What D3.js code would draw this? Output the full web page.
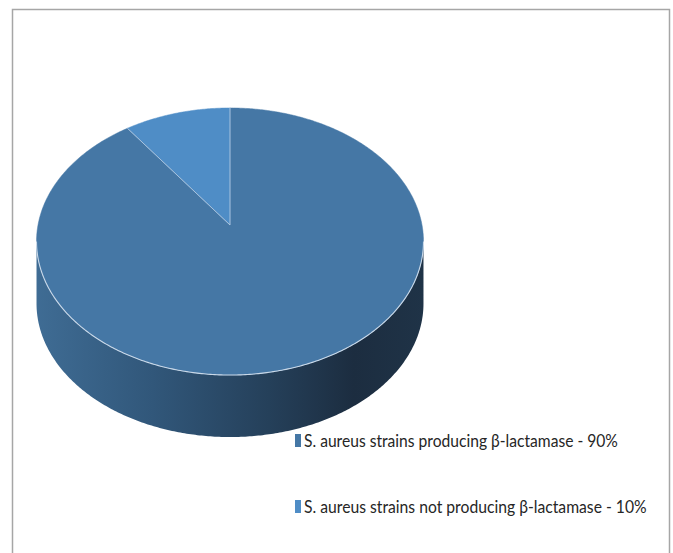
<!DOCTYPE html>
<html>
<head>
<meta charset="utf-8">
<script src="https://cdn.jsdelivr.net/npm/d3@7"></script>
<style>
  html, body { margin: 0; padding: 0; background: #ffffff; }
  svg { display: block; }
</style>
</head>
<body>
<svg id="chart" width="673" height="553"></svg>
<script>
// ---- data ----
const categories = [
  "S. aureus strains producing \u03B2-lactamase - 90%",
  "S. aureus strains not producing \u03B2-lactamase - 10%"
];
const values = [90, 10];
const sliceColors = ["#4577a5", "#4f8dc6"];

// ---- layout ----
const svg = d3.select("#chart");

// chart frame
svg.append("rect")
  .attr("x", 12.5).attr("y", 9.5)
  .attr("width", 657).attr("height", 560)
  .attr("fill", "#ffffff")
  .attr("stroke", "#a6a6a6").attr("stroke-width", 1.5);

// perspective projection of a unit circle (angle clockwise from the top)
const cx = 230, cy = 225;   // projected pie centre
const S = 192, T = 131.5, k = 0.1236;
const depth = 62;
function proj(a, r = 1, dy = 0) {
  const u = r * Math.sin(a), v = -r * Math.cos(a);
  const w = 1 - k * v;
  return [cx + S * u / w, cy + T * v / w + dy];
}

const pie = d3.pie().sort(null).startAngle(0).endAngle(2 * Math.PI);
const arcs = pie(values);
const line = d3.line();

function arcPoints(a0, a1, dy = 0) {
  const n = Math.max(8, Math.ceil(Math.abs(a1 - a0) / 0.01));
  return d3.range(n + 1).map(i => proj(a0 + (a1 - a0) * i / n, 1, dy));
}

// gradient for the side
const aR = Math.acos(-k);              // right silhouette angle
const aL = 2 * Math.PI - aR;           // left silhouette angle
const defs = svg.append("defs");
const grad = defs.append("linearGradient")
  .attr("id", "sideGrad")
  .attr("gradientUnits", "userSpaceOnUse")
  .attr("x1", proj(aL)[0]).attr("y1", 0)
  .attr("x2", proj(aR)[0]).attr("y2", 0);
[[0, "#3f6c94"], [0.3, "#31577a"], [0.6, "#25405a"], [0.82, "#1c2d40"], [1, "#1f3347"]]
  .forEach(([o, c]) => grad.append("stop").attr("offset", o).attr("stop-color", c));

// visible side of the cylinder (front half, belongs to the big slice)
const big = arcs[0];
const sA0 = Math.max(aR, big.startAngle), sA1 = Math.min(aL, big.endAngle);
const sidePts = arcPoints(sA0, sA1, 0).concat(arcPoints(sA1, sA0, depth));
svg.append("path")
  .attr("d", line(sidePts) + "Z")
  .attr("fill", "url(#sideGrad)");

// top faces
arcs.forEach((d, i) => {
  const pts = [proj(0, 0)].concat(arcPoints(d.startAngle, d.endAngle));
  svg.append("path")
    .attr("d", line(pts) + "Z")
    .attr("fill", sliceColors[i])
    .attr("stroke", sliceColors[i])
    .attr("stroke-width", 0.5);
});

// light edges: slice borders and the front rim
arcs.forEach(d => {
  svg.append("path")
    .attr("d", line([proj(0, 0), proj(d.startAngle)]))
    .attr("fill", "none")
    .attr("stroke", "#b9cde2").attr("stroke-width", 1).attr("stroke-opacity", 0.85);
});
svg.append("path")
  .attr("d", line(arcPoints(aR, aL)))
  .attr("fill", "none")
  .attr("stroke", "#c9d8e8").attr("stroke-width", 1.1);

// legend
const legend = svg.append("g");
const legY = [447, 513];
const legW = [314, 343];
categories.forEach((c, i) => {
  legend.append("rect")
    .attr("x", 295).attr("y", legY[i] - 13)
    .attr("width", 6).attr("height", 13)
    .attr("fill", sliceColors[i]);
  const g = legend.append("g");
  const t = g.append("text")
    .attr("x", 0).attr("y", 0)
    .attr("font-family", "Lato, 'Open Sans', Arial, sans-serif")
    .attr("font-size", 18)
    .attr("fill", "#262626")
    .text(c);
  const natural = t.node().getComputedTextLength();
  const sx = Math.min(1, legW[i] / natural);
  g.attr("transform", `translate(304,${legY[i]}) scale(${sx},1)`);
});
</script>
</body>
</html>
